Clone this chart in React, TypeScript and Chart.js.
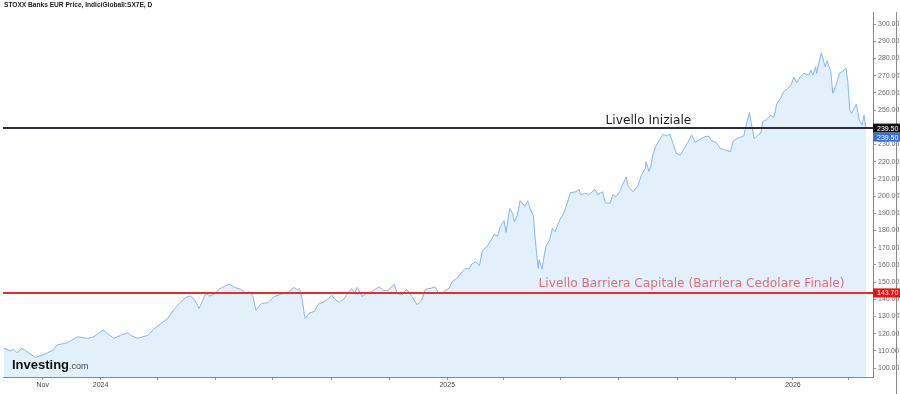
import React, { useEffect, useRef } from "react";
import { Chart, registerables } from "chart.js";

Chart.register(...registerables);

const TITLE = "STOXX Banks EUR Price, IndiciGlobali:SX7E, D";

// days since 2024-01-01
const dayOffsets = [
  -102, -95, -92, -88, -83, -80, -76, -69, -64, -56,
  -50, -46, -35, -24, -14, -7, 0, 3, 7, 14,
  21, 29, 32, 39, 50, 56, 64, 71, 77, 85,
  90, 95, 99, 104, 108, 111, 115, 120, 125, 130,
  136, 141, 148, 154, 157, 161, 164, 170, 177, 183,
  191, 198, 204, 208, 210, 213, 215, 216, 220, 226,
  230, 235, 241, 244, 247, 252, 257, 262, 265, 268,
  271, 276, 281, 286, 294, 299, 304, 310, 313, 318,
  323, 329, 334, 339, 343, 348, 353, 357, 361, 364,
  368, 371, 376, 382, 385, 389, 392, 396, 400, 403,
  408, 411, 416, 419, 422, 426, 428, 432, 435, 437,
  440, 443, 448, 451, 454, 457, 459, 462, 463, 466,
  470, 474, 477, 480, 485, 488, 491, 496, 502, 505,
  507, 511, 516, 522, 525, 530, 533, 538, 541, 544,
  548, 551, 555, 557, 562, 567, 571, 575, 576, 579,
  581, 583, 586, 591, 594, 597, 601, 604, 608, 612,
  615, 620, 624, 628, 633, 638, 642, 645, 650, 654,
  660, 665, 668, 673, 679, 682, 685, 687, 690, 694,
  697, 699, 703, 707, 711, 714, 718, 721, 724, 729,
  732, 735, 739, 742, 748, 750, 752, 755, 756, 759,
  761, 765, 767, 771, 773, 776, 780, 783, 787, 789,
  791, 793, 798, 801, 804, 806, 808,
];

const prices = [
  111.5, 110.0, 111.0, 108.9, 111.5, 110.4, 108.9, 106.2, 107.0, 108.9,
  110.4, 113.4, 114.7, 118.2, 117.2, 118.2, 121.1, 122.1, 120.1, 117.3,
  119.0, 120.5, 119.0, 117.3, 119.0, 122.5, 126.0, 128.9, 133.7, 138.6,
  141.1, 141.9, 139.9, 134.7, 139.5, 143.4, 141.9, 142.9, 145.8, 147.3,
  148.8, 147.0, 145.8, 143.4, 144.4, 141.5, 133.7, 137.6, 138.0, 141.5,
  143.0, 144.0, 146.9, 145.5, 146.2, 139.5, 131.8, 128.9, 131.8, 133.1,
  137.2, 138.2, 140.5, 142.4, 140.2, 138.2, 140.2, 144.4, 146.3, 143.5,
  146.9, 141.5, 143.5, 144.4, 147.3, 145.0, 145.3, 148.8, 143.5, 142.4,
  145.8, 141.5, 136.8, 139.5, 145.8, 146.3, 147.3, 143.5, 143.2, 145.3,
  146.3, 150.2, 152.1, 156.0, 158.0, 157.5, 160.5, 161.9, 159.5, 168.2,
  170.5, 173.4, 177.9, 176.5, 182.2, 185.6, 178.9, 192.8, 189.9, 185.0,
  189.0, 197.3, 194.0, 197.3, 192.0, 188.6, 174.4, 158.0, 163.0, 157.5,
  170.5, 174.4, 181.2, 179.4, 186.5, 189.0, 193.0, 201.9, 202.5, 203.9,
  200.6, 201.6, 201.0, 203.9, 200.8, 202.5, 196.1, 195.8, 201.0, 199.6,
  202.5, 206.4, 211.2, 205.6, 202.5, 205.6, 212.2, 216.1, 220.0, 214.2,
  217.8, 223.8, 228.7, 233.5, 236.0, 234.9, 236.0, 231.2, 224.8, 223.8,
  226.7, 231.2, 235.5, 231.2, 233.1, 234.5, 234.9, 232.1, 231.2, 227.8,
  226.7, 225.8, 232.1, 233.7, 234.9, 242.3, 248.5, 242.3, 233.5, 235.5,
  236.6, 243.2, 244.4, 246.9, 245.9, 253.9, 256.8, 260.6, 261.8, 264.5,
  269.0, 266.0, 269.4, 271.3, 270.3, 273.3, 270.3, 275.2, 271.3, 279.1,
  283.3, 275.2, 278.7, 272.3, 259.7, 263.6, 271.3, 272.3, 274.2, 266.0,
  250.0, 248.1, 253.5, 244.2, 241.2, 247.1, 239.5,
];

// x-axis ticks (days since 2024-01-01, every two months)
const tickDays = [-61, 0, 60, 121, 182, 244, 305, 366, 425, 486, 547, 609, 670, 731, 790];
const tickLabels = ["Nov", "2024", "", "", "", "", "", "2025", "", "", "", "", "", "2026", ""];

const yTickValues = [100, 110, 120, 130, 140, 150, 160, 170, 180, 190, 200, 210, 220, 230, 240, 250, 260, 270, 280, 290, 300];

const initialLevel = 239.5;
const barrierLevel = 143.7;
const lastPrice = 239.5;
const initialLabel = "Livello Iniziale";
const barrierLabel = "Livello Barriera Capitale (Barriera Cedolare Finale)";

const SMALL_FONT = "'Liberation Sans', Arial, sans-serif";

export default function App() {
  const canvasRef = useRef<HTMLCanvasElement | null>(null);

  useEffect(() => {
    const canvas = canvasRef.current;
    if (!canvas) return;
    const n = Math.min(dayOffsets.length, prices.length);
    const points = [];
    for (let i = 0; i < n; i++) points.push({ x: dayOffsets[i], y: prices[i] });

    const overlay = {
      id: "overlay",
      afterDraw(chart: any) {
        const ctx = chart.ctx as CanvasRenderingContext2D;
        const area = chart.chartArea;
        const ys = chart.scales.y;
        ctx.save();

        // title
        ctx.fillStyle = "#222";
        ctx.font = `bold 6.6px ${SMALL_FONT}`;
        ctx.textBaseline = "middle";
        ctx.textAlign = "left";
        ctx.fillText(TITLE, 4, 5);

        // outer right border
        ctx.strokeStyle = "#8a8a8a";
        ctx.lineWidth = 1;
        ctx.beginPath();
        ctx.moveTo(896.5, area.top);
        ctx.lineTo(896.5, chart.height);
        ctx.stroke();

        // barrier line
        const yb = ys.getPixelForValue(barrierLevel);
        ctx.strokeStyle = "#ee2b2b";
        ctx.lineWidth = 2;
        ctx.beginPath();
        ctx.moveTo(area.left, yb);
        ctx.lineTo(area.right, yb);
        ctx.stroke();

        // initial line
        const yi = ys.getPixelForValue(initialLevel);
        ctx.strokeStyle = "#2b2f3a";
        ctx.lineWidth = 2;
        ctx.beginPath();
        ctx.moveTo(area.left, yi);
        ctx.lineTo(area.right, yi);
        ctx.stroke();

        // annotation texts
        ctx.font = "12.2px 'DejaVu Sans', Verdana, sans-serif";
        ctx.textBaseline = "alphabetic";
        ctx.fillStyle = "#1e1e1e";
        ctx.fillText(initialLabel, 605.5, yi - 4.3);
        ctx.fillStyle = "rgba(226, 96, 108, 0.9)";
        ctx.fillText(barrierLabel, 538.5, yb - 6.3);

        // right tags
        const tag = (y: number, bg: string, text: string) => {
          ctx.fillStyle = bg;
          ctx.fillRect(area.right, y - 4.5, 27, 9);
          ctx.fillStyle = "#fff";
          ctx.font = `7px ${SMALL_FONT}`;
          ctx.textBaseline = "middle";
          ctx.textAlign = "left";
          ctx.fillText(text, area.right + 4, y + 0.5);
        };
        tag(yi, "#111111", initialLevel.toFixed(2));
        tag(ys.getPixelForValue(lastPrice) + 9, "#3d6fe0", lastPrice.toFixed(2));
        tag(yb, "#ee1111", barrierLevel.toFixed(2));

        // logo
        ctx.textBaseline = "alphabetic";
        ctx.textAlign = "left";
        ctx.fillStyle = "#111";
        ctx.font = `bold 13px ${SMALL_FONT}`;
        const w = ctx.measureText("Investing").width;
        ctx.fillText("Investing", 12, 369);
        ctx.fillStyle = "#444";
        ctx.font = `9px ${SMALL_FONT}`;
        ctx.fillText(".com", 12 + w, 369);

        ctx.restore();
      },
    };

    const chart = new Chart(canvas, {
      type: "line",
      data: {
        datasets: [
          {
            data: points,
            borderColor: "#86b8e8",
            borderWidth: 1,
            backgroundColor: "#e1f0fb",
            fill: "start",
            pointRadius: 0,
            tension: 0,
          },
        ],
      },
      options: {
        responsive: false,
        animation: false,
        devicePixelRatio: 1,
        parsing: false,
        layout: { padding: { left: 3, top: 12, right: 0, bottom: 0 } },
        plugins: {
          legend: { display: false },
          tooltip: { enabled: false },
        },
        scales: {
          x: {
            type: "linear",
            min: -103,
            max: 815.5,
            afterBuildTicks: (scale: any) => {
              scale.ticks = tickDays.map((v) => ({ value: v }));
            },
            afterFit: (scale: any) => {
              scale.height = 17;
            },
            ticks: {
              autoSkip: false,
              maxRotation: 0,
              minRotation: 0,
              padding: 1,
              color: "#444",
              font: { size: 7, family: SMALL_FONT },
              callback: (_v: any, i: number) => tickLabels[i],
            },
            grid: {
              drawOnChartArea: false,
              drawTicks: true,
              tickLength: 3,
              color: "#999",
            },
            border: { color: "#8a8a8a", width: 1 },
          },
          y: {
            position: "right",
            min: 94.8,
            max: 307,
            afterBuildTicks: (scale: any) => {
              scale.ticks = yTickValues.map((v) => ({ value: v }));
            },
            afterFit: (scale: any) => {
              scale.width = 27;
            },
            ticks: {
              padding: 2,
              color: "#666",
              font: { size: 7, family: SMALL_FONT },
              callback: (v: any) => Number(v).toFixed(2),
            },
            grid: {
              drawOnChartArea: false,
              drawTicks: true,
              tickLength: 3,
              color: "#999",
            },
            border: { color: "#8a8a8a", width: 1 },
          },
        },
      },
      plugins: [overlay],
    } as any);

    return () => {
      chart.destroy();
    };
  }, []);

  return (
    <div
      style={{
        position: "fixed",
        left: 0,
        top: 0,
        width: 900,
        height: 394,
        background: "#fff",
        overflow: "hidden",
      }}
    >
      <canvas ref={canvasRef} width={900} height={394} style={{ display: "block" }} />
    </div>
  );
}
